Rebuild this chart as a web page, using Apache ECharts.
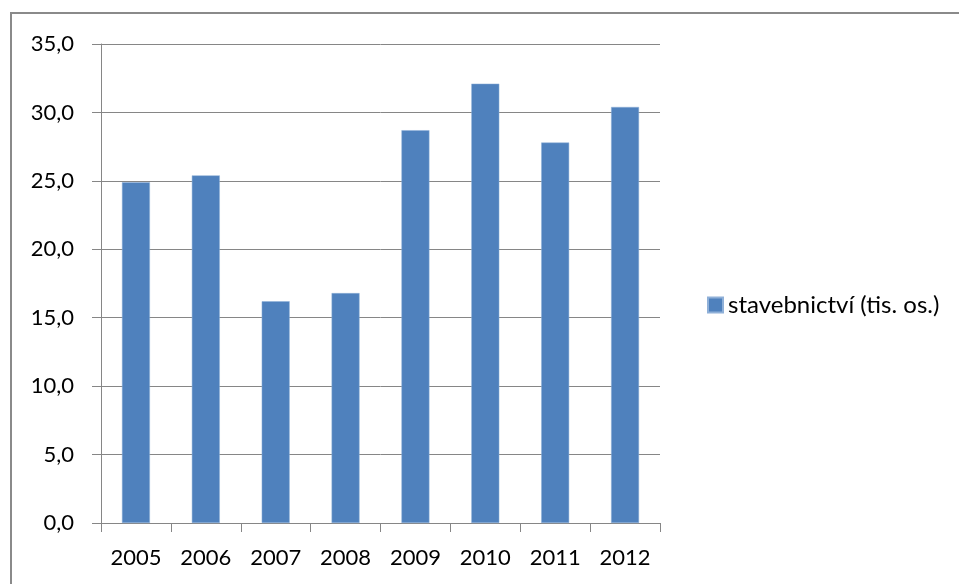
<!DOCTYPE html>
<html>
<head>
<meta charset="utf-8">
<script src="https://cdn.jsdelivr.net/npm/echarts@6/dist/echarts.min.js"></script>
<style>
html,body{margin:0;padding:0;background:#fff;}
#chart{width:959px;height:584px;}
</style>
</head>
<body>
<div id="chart"></div>
<script>
const categories = ['2005','2006','2007','2008','2009','2010','2011','2012'];
const seriesName = 'stavebnictví (tis. os.)';
const values = [24.9, 25.4, 16.2, 16.8, 28.7, 32.1, 27.8, 30.4];
const yMin = 0, yMax = 35, yStep = 5;

const chart = echarts.init(document.getElementById('chart'));
const font = 'Lato, "Open Sans", sans-serif';
chart.setOption({
  animation: false,
  backgroundColor: '#fff',
  graphic: [{
    type: 'rect',
    shape: {x: 11, y: 13, width: 1200, height: 1200},
    style: {fill: 'none', stroke: '#8a8a8a', lineWidth: 2},
    silent: true
  }],
  grid: {left: 101, top: 44, width: 559, height: 479, containLabel: false},
  legend: {
    data: [seriesName],
    left: 702, top: 288,
    orient: 'vertical',
    itemWidth: 15, itemHeight: 15, itemGap: 6,
    icon: 'rect',
    textStyle: {fontFamily: font, fontSize: 24, color: '#000', padding: [0,0,0,0]}
  },
  xAxis: {
    type: 'category',
    data: categories,
    axisLine: {lineStyle: {color: '#868686', width: 1}},
    axisTick: {show: true, alignWithLabel: false, length: 9, lineStyle: {color: '#868686'}},
    axisLabel: {fontFamily: font, fontSize: 22, color: '#000', margin: 24},
    splitLine: {show: false}
  },
  yAxis: {
    type: 'value',
    min: yMin, max: yMax, interval: yStep,
    axisLine: {show: true, lineStyle: {color: '#868686', width: 1}},
    axisTick: {show: true, length: 9, lineStyle: {color: '#868686'}},
    axisLabel: {fontFamily: font, fontSize: 22, color: '#000', margin: 27,
      formatter: v => v.toFixed(1).replace('.', ',')},
    splitLine: {show: true, lineStyle: {color: '#868686', width: 1}}
  },
  series: [{
    name: seriesName,
    type: 'bar',
    data: values,
    barWidth: '40%',
    itemStyle: {color: '#4F81BD', borderColor: '#8fb0d8', borderWidth: 0.5}
  }]
});
</script>
</body>
</html>
